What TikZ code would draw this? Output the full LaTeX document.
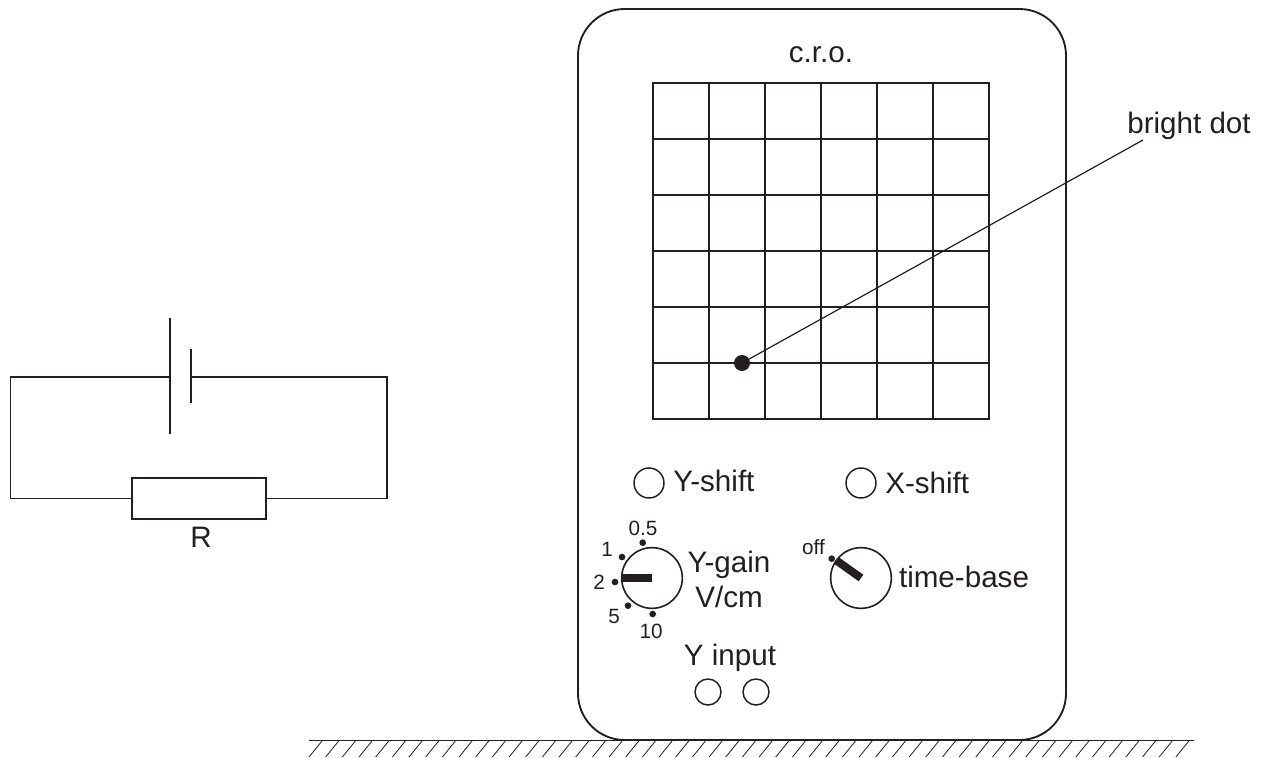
\documentclass[tikz,border=0pt]{standalone}
\usepackage{fontspec}
\setmainfont{Liberation Sans}
\definecolor{ink}{HTML}{231F20}
\tikzset{
  px/.style={x=0.75pt,y=-0.75pt},
  line/.style={draw=ink,line width=1.2pt},
  thin line/.style={draw=ink,line width=0.9pt},
  lab/.style={text=ink,font=\fontsize{22.2}{25}\selectfont,inner sep=0pt,anchor=base},
  small/.style={text=ink,font=\fontsize{15.5}{18}\selectfont,inner sep=0pt,anchor=base},
  knob/.style={circle,draw=ink,line width=1.2pt,minimum size=45.5pt,inner sep=0pt},
  socket/.style={circle,draw=ink,line width=1.1pt,minimum size=22.5pt,inner sep=0pt},
  jack/.style={circle,draw=ink,line width=1.1pt,minimum size=19.5pt,inner sep=0pt},
  mark dot/.style={circle,fill=ink,minimum size=5pt,inner sep=0pt},
  pointer/.style={draw=ink,line width=6pt},
  hatch/.style={draw=ink,line width=0.6pt},
}
\begin{document}
\begin{tikzpicture}[px]
\useasboundingbox (0,0) rectangle (1263,757);
% circuit
\node[draw=ink,line width=1.2pt,minimum width=100.5pt,minimum height=30.75pt,inner sep=0pt] (res) at (198.7,498.5) {};
\coordinate (tl) at (10.5,377); \coordinate (tr) at (387,377);
\coordinate (bl) at (10.5,498.5); \coordinate (br) at (387,498.5);
\coordinate (p1a) at (170,318); \coordinate (p1b) at (170,434);
\coordinate (p2a) at (191,349); \coordinate (p2b) at (191,403);
\coordinate (p1m) at (170,377); \coordinate (p2m) at (191,377);
\draw[line] (p1m) -- (tl) -- (bl) -- (res.west);
\draw[line] (p2m) -- (tr) -- (br) -- (res.east);
\draw[line] (p1a) -- (p1b);
\draw[line] (p2a) -- (p2b);
\node[lab] (rlabel) at (201,547) {R};
% case
\node[draw=ink,line width=1.4pt,rounded corners=35pt,minimum width=366pt,minimum height=548.25pt,inner sep=0pt] (case) at (822,374.5) {};
\node[lab] (cro) at (821,62) {c.r.o.};
% grid
\foreach \i in {0,...,6}{
  \coordinate (gt\i) at ({653+56*\i},83);
  \coordinate (gb\i) at ({653+56*\i},419);
  \coordinate (gl\i) at (653,{83+56*\i});
  \coordinate (gr\i) at (989,{83+56*\i});
  \draw[line,line cap=rect] (gt\i) -- (gb\i);
  \draw[line,line cap=rect] (gl\i) -- (gr\i);
}
% bright dot
\node[circle,fill=ink,minimum size=12pt,inner sep=0pt] (bdot) at (742,363) {};
\node[lab] (bdl) at (1189,133) {bright dot};
\coordinate (leader) at (1143,140);
\draw[thin line] (bdot.center) -- (leader);
% shifts
\node[socket] (ys) at (649,483) {};
\node[lab,anchor=base west] (yst) at (673,491) {Y-shift};
\node[socket] (xs) at (861,483) {};
\node[lab,anchor=base west] (xst) at (885,493) {X-shift};
% y gain
\node[knob] (yg) at (652,578) {};
\coordinate (ygp) at (622,578);
\draw[pointer] (ygp) -- (yg.center);
\node[mark dot] (d05) at (642.7,542.7) {};
\node[mark dot] (d1) at (622,557) {};
\node[mark dot] (d2) at (615,582) {};
\node[mark dot] (d5) at (628,605.7) {};
\node[mark dot] (d10) at (652.7,614) {};
\node[small] (l05) at (643,535) {0.5};
\node[small] (l1) at (607,556) {1};
\node[small] (l2) at (599,589) {2};
\node[small] (l5) at (614,623) {5};
\node[small] (l10) at (651,638) {10};
\node[lab] (ygt) at (729,572) {Y-gain};
\node[lab] (vcm) at (729,607) {V/cm};
% time base
\node[knob] (tb) at (861,578) {};
\coordinate (tbp) at (836.7,560.7);
\draw[pointer] (tbp) -- (tb.center);
\node[mark dot] (doff) at (831.7,558.7) {};
\node[small] (off) at (813.5,554) {off};
\node[lab] (tbt) at (964,587) {time-base};
% y input
\node[lab] (yin) at (730,665) {Y input};
\node[jack] (j1) at (708,692) {};
\node[jack] (j2) at (756,692) {};
% ground
\coordinate (g1) at (309,740.5); \coordinate (g2) at (1194,740.5);
\draw[line] (g1) -- (g2);
\foreach \i in {0,...,52}{
  \coordinate (ha) at ({322+16.67*\i},741);
  \coordinate (hb) at ({309+16.67*\i},757);
  \draw[hatch] (ha) -- (hb);
}
\end{tikzpicture}
\end{document}
